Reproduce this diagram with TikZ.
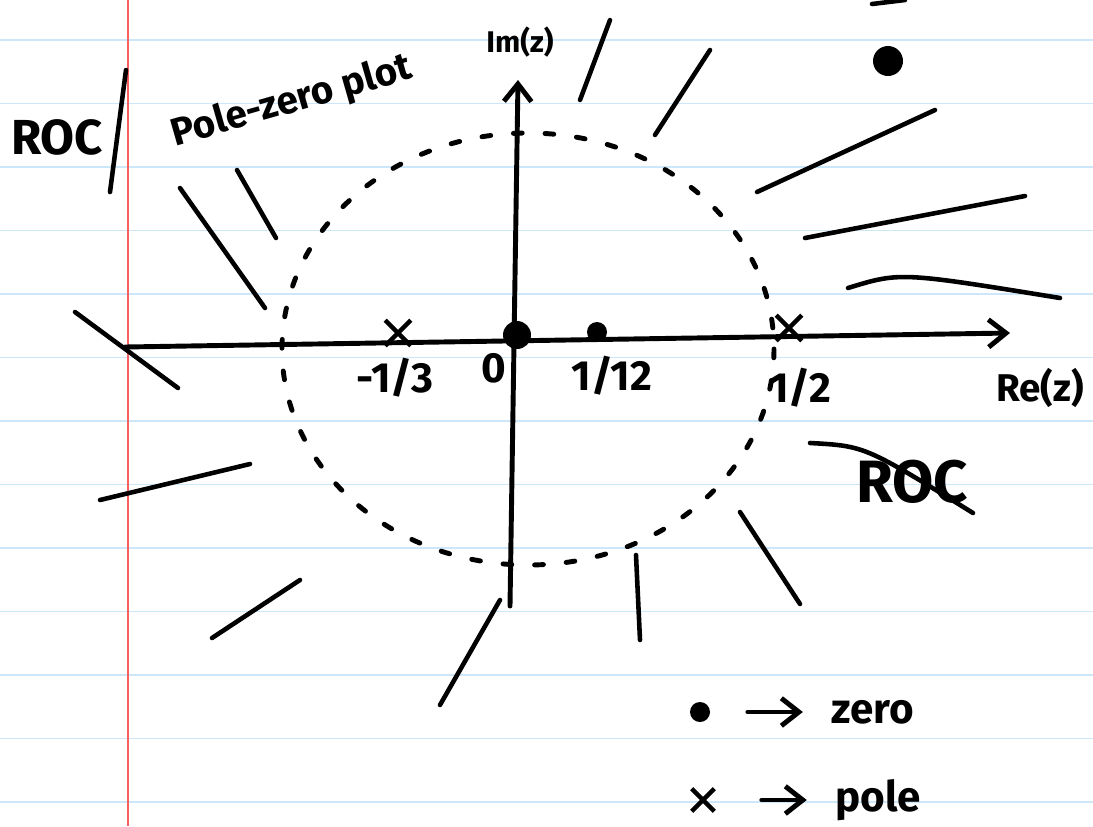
\documentclass[tikz,border=0pt]{standalone}
\usepackage{fontspec}
\setmainfont{Fira Sans}
\usetikzlibrary{arrows.meta, positioning, shapes.misc}

\definecolor{ruleblue}{RGB}{204,231,250}
\definecolor{marginred}{RGB}{246,96,96}

\begin{document}
\begin{tikzpicture}[
    x=0.02cm, y=-0.02cm,
    ink/.style={line width=2.8pt, line cap=round, line join=round},
    hatch/.style={line width=2.6pt, line cap=round},
    pole/.style={cross out, draw, line width=2.6pt, minimum size=0.42cm, inner sep=0pt},
    zero/.style={circle, fill, inner sep=0pt, minimum size=0.4cm},
    lbl/.style={font=\bfseries\fontsize{24}{28}\selectfont},
    barb/.style={-{Straight Barb[length=3.5mm, width=5.5mm]}}
]
    % paper
    \fill[white] (0,0) rectangle (1093,826);
    \useasboundingbox (0,0) rectangle (1093,826);
    \foreach \k in {0,...,12}
        \draw[ruleblue, line width=1pt] (0,{40+63.5*\k}) -- (1093,{40+63.5*\k});
    \draw[marginred, line width=1pt] (128,0) -- (128,826);

    % title
    \node[font=\bfseries\fontsize{28}{32}\selectfont] (roc) at (57,137) {ROC};
    \draw[hatch] (126,70) -- (110,192);
    \node[lbl, font=\bfseries\fontsize{22}{26}\selectfont, rotate=16] (title) at (292,102) {Pole-zero plot};

    % axes
    \coordinate (re0) at (125,347);
    \coordinate (re1) at (1010,333);
    \coordinate (im0) at (510,606);
    \coordinate (im1) at (518,80);
    \draw[ink, barb] (re0) -- (re1);
    \draw[ink, barb] (im0) -- (im1);
    \node[font=\bfseries\fontsize{22}{26}\selectfont] (relbl) at (1040,388) {Re(z)};
    \node[font=\bfseries\fontsize{17}{20}\selectfont] (imlbl) at (520,42) {Im(z)};

    % unit circle boundary
    \draw[ink, dash pattern=on 5pt off 13pt] (528,349) ellipse [x radius=246, y radius=216];

    % poles and zeros
    \node[pole] (pa) at (398,333) {};
    \node[pole] (pb) at (789,328) {};
    \node[zero, minimum size=0.56cm] (za) at (517,335) {};
    \node[zero, minimum size=0.4cm] (zb) at (597,332) {};
    \node[lbl] (la) at (395,378) {-1/3};
    \node[lbl] (l0) at (494,368) {0};
    \node[lbl] (lb) at (612,376) {1/12};
    \node[lbl] (lc) at (800,388) {1/2};

    % ROC hatching
    \foreach \a/\b in {{(75,312)}/{(178,388)}, {(180,188)}/{(265,308)},
                       {(237,170)}/{(276,238)}, {(100,500)}/{(250,464)},
                       {(212,638)}/{(300,580)}, {(440,705)}/{(500,600)},
                       {(636,555)}/{(640,640)}, {(740,512)}/{(800,604)},
                       {(805,238)}/{(1025,196)}, {(757,192)}/{(935,110)},
                       {(655,135)}/{(710,50)}, {(580,100)}/{(610,20)}}
        \draw[hatch] \a -- \b;
    \draw[hatch] (848,288) .. controls (900,272) .. (1060,298);
    \node[zero, minimum size=0.6cm] (blob) at (888,61) {};
    \draw[hatch] (872,4) -- (905,0);

    % struck-out ROC
    \node[font=\bfseries\fontsize{34}{38}\selectfont] (roc2) at (912,482) {ROC};
    \draw[hatch] (810,443) .. controls (865,446) .. (973,513);

    % legend
    \node[zero] (lz) at (700,712) {};
    \node[lbl, right=2.3cm of lz] (lzt) {zero};
    \draw[ink, barb, shorten <=0.75cm, shorten >=0.45cm] (lz) -- (lzt);
    \node[pole, minimum size=0.36cm] (lp) at (703,800) {};
    \node[lbl, right=2.3cm of lp] (lpt) {pole};
    \draw[ink, barb, shorten <=0.95cm, shorten >=0.45cm] (lp) -- (lpt);
\end{tikzpicture}
\end{document}
